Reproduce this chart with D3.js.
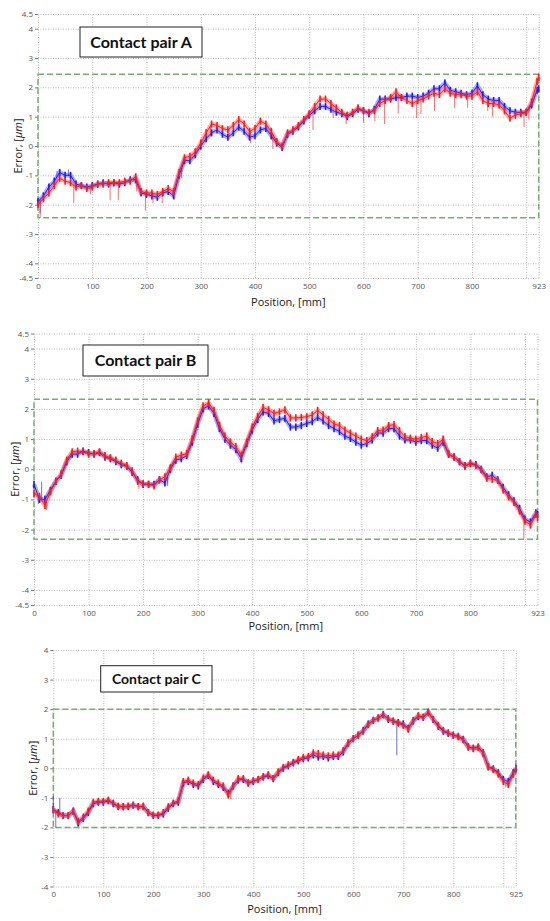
<!DOCTYPE html>
<html>
<head>
<meta charset="utf-8">
<script src="https://cdn.jsdelivr.net/npm/d3@7"></script>
<style>
  body { margin: 0; background: #fff; }
  svg { display: block; }
  .tick-label text { font-family: "Open Sans", sans-serif; font-size: 8px; fill: #555; }
  .axis-title { font-family: "Open Sans", sans-serif; font-size: 11px; fill: #222; }
  .title { font-family: Lato, sans-serif; font-weight: bold; fill: #111; }
</style>
</head>
<body>
<div id="chart"></div>
<script>
// sample positions, mm
var posAB = [0,10,20,30,40,50,60,70,80,90,100,110,120,130,140,150,160,170,180,190,
  200,210,220,230,240,250,260,270,280,290,300,310,320,330,340,350,360,370,380,390,
  400,410,420,430,440,450,460,470,480,490,500,510,520,530,540,550,560,570,580,590,
  600,610,620,630,640,650,660,670,680,690,700,710,720,730,740,750,760,770,780,790,
  800,810,820,830,840,850,860,870,880,890,900,910,920,923];
var posC = [0,10,20,30,40,50,60,70,80,90,100,110,120,130,140,150,160,170,180,190,
  200,210,220,230,240,250,260,270,280,290,300,310,320,330,340,350,360,370,380,390,
  400,410,420,430,440,450,460,470,480,490,500,510,520,530,540,550,560,570,580,590,
  600,610,620,630,640,650,660,670,680,690,700,710,720,730,740,750,760,770,780,790,
  800,810,820,830,840,850,860,870,880,890,900,910,920,925];

// error, um
var blueA = [-1.9,-1.7,-1.4,-1.2,-0.9,-1.0,-1.0,-1.3,-1.35,-1.4,
  -1.35,-1.3,-1.25,-1.3,-1.25,-1.3,-1.25,-1.15,-1.15,-1.6,
  -1.65,-1.7,-1.75,-1.6,-1.55,-1.7,-1.0,-0.5,-0.5,-0.3,
  0.0,0.25,0.45,0.55,0.4,0.3,0.45,0.65,0.5,0.3,
  0.35,0.55,0.6,0.35,0.1,-0.05,0.4,0.5,0.65,0.85,
  1.05,1.2,1.35,1.35,1.25,1.15,1.1,1.0,1.1,1.25,
  1.2,1.1,1.25,1.6,1.6,1.6,1.65,1.65,1.7,1.7,
  1.65,1.7,1.8,1.95,1.95,2.15,1.9,1.85,1.8,1.75,
  1.8,2.05,1.75,1.6,1.55,1.55,1.35,1.2,1.15,1.15,
  1.15,1.4,1.9,1.95];
var redA = [-2.0,-1.8,-1.6,-1.35,-1.1,-1.2,-1.25,-1.4,-1.35,-1.45,
  -1.4,-1.3,-1.3,-1.25,-1.25,-1.25,-1.2,-1.2,-1.05,-1.55,
  -1.6,-1.6,-1.65,-1.55,-1.45,-1.55,-0.9,-0.4,-0.35,-0.2,
  0.1,0.45,0.75,0.7,0.6,0.55,0.7,0.9,0.75,0.5,
  0.6,0.85,0.75,0.5,0.15,0.0,0.45,0.55,0.7,0.9,
  1.1,1.35,1.6,1.6,1.45,1.3,1.15,1.05,1.15,1.3,
  1.2,1.15,1.2,1.45,1.55,1.65,1.85,1.65,1.55,1.45,
  1.55,1.6,1.7,1.8,1.75,1.95,1.8,1.75,1.75,1.7,
  1.7,1.85,1.55,1.45,1.45,1.4,1.2,0.95,1.05,1.1,
  1.15,1.5,2.2,2.35];
var blueB = [-0.5,-1.0,-1.0,-0.7,-0.4,-0.2,0.25,0.5,0.5,0.6,
  0.55,0.5,0.55,0.4,0.35,0.25,0.15,0.1,-0.1,-0.35,
  -0.5,-0.5,-0.5,-0.35,-0.45,0.0,0.3,0.35,0.45,0.9,
  1.5,2.0,2.1,1.85,1.35,1.0,0.8,0.65,0.35,0.85,
  1.3,1.65,1.9,1.85,1.6,1.65,1.69,1.4,1.4,1.45,
  1.52,1.58,1.72,1.6,1.45,1.35,1.25,1.1,1.02,0.9,
  0.8,0.85,0.97,1.2,1.2,1.35,1.35,1.1,0.97,0.97,
  0.9,0.95,0.95,0.8,0.7,0.9,0.5,0.4,0.25,0.1,
  0.2,0.15,0.0,-0.25,-0.2,-0.35,-0.6,-0.85,-1.05,-1.3,
  -1.65,-1.75,-1.45,-1.5];
var redB = [-0.8,-0.9,-1.2,-0.75,-0.4,-0.15,0.3,0.58,0.6,0.58,
  0.5,0.52,0.58,0.45,0.38,0.3,0.2,0.12,-0.05,-0.4,
  -0.48,-0.5,-0.55,-0.35,-0.25,0.05,0.4,0.47,0.52,1.0,
  1.6,2.1,2.2,1.95,1.45,1.1,0.9,0.75,0.47,0.9,
  1.4,1.75,2.05,1.97,1.85,1.9,1.97,1.7,1.7,1.72,
  1.74,1.8,1.95,1.8,1.65,1.5,1.45,1.3,1.2,1.1,
  1.0,0.95,1.08,1.28,1.3,1.45,1.48,1.28,1.08,1.03,
  1.0,1.05,1.1,0.92,0.85,1.0,0.5,0.4,0.25,0.12,
  0.18,0.12,-0.02,-0.3,-0.33,-0.37,-0.68,-0.92,-1.1,-1.38,
  -1.72,-1.85,-1.5,-1.6];
var blueC = [-1.4,-1.5,-1.6,-1.6,-1.45,-1.85,-1.7,-1.5,-1.2,-1.15,
  -1.15,-1.1,-1.2,-1.3,-1.3,-1.3,-1.25,-1.3,-1.3,-1.5,
  -1.6,-1.6,-1.55,-1.35,-1.2,-1.15,-0.5,-0.45,-0.55,-0.6,
  -0.38,-0.25,-0.45,-0.55,-0.65,-0.85,-0.6,-0.4,-0.38,-0.5,
  -0.45,-0.38,-0.3,-0.25,-0.35,-0.15,0.0,0.08,0.18,0.25,
  0.32,0.35,0.45,0.38,0.4,0.35,0.4,0.4,0.55,0.85,
  1.0,1.12,1.28,1.5,1.62,1.7,1.82,1.65,1.6,1.55,
  1.5,1.35,1.6,1.75,1.72,1.9,1.65,1.42,1.25,1.18,
  1.12,1.08,0.98,0.72,0.68,0.72,0.52,0.05,-0.02,-0.15,
  -0.38,-0.45,-0.15,0.0];
var redC = [-1.4,-1.55,-1.6,-1.6,-1.45,-1.8,-1.65,-1.45,-1.15,-1.12,
  -1.12,-1.08,-1.18,-1.28,-1.3,-1.28,-1.25,-1.3,-1.28,-1.5,
  -1.58,-1.58,-1.5,-1.3,-1.18,-1.1,-0.45,-0.4,-0.5,-0.55,
  -0.33,-0.22,-0.4,-0.5,-0.6,-0.9,-0.6,-0.35,-0.35,-0.5,
  -0.42,-0.38,-0.28,-0.22,-0.35,-0.12,0.03,0.12,0.2,0.3,
  0.36,0.4,0.52,0.5,0.45,0.42,0.45,0.45,0.6,0.85,
  1.0,1.12,1.25,1.48,1.62,1.7,1.8,1.68,1.58,1.52,
  1.45,1.32,1.62,1.78,1.73,1.88,1.65,1.45,1.28,1.2,
  1.12,1.06,0.96,0.72,0.66,0.7,0.5,0.05,-0.05,-0.2,
  -0.45,-0.55,-0.2,-0.02];

// isolated spikes [mm, tip value]
var redSpikesA = [[4,-2.45],[66,-1.95],[97,-1.65],[133,-1.85],[148,-1.85],[182,-1.55],[198,-2.2],
  [212,-1.95],[229,-1.95],[249,-1.75],[318,0.35],[352,0.2],[392,0.1],[433,-0.1],[507,0.55],
  [544,0.95],[568,0.75],[600,0.8],[621,0.85],[639,0.75],[664,1.1],[698,0.95],[706,1.1],
  [731,1.2],[768,1.3],[792,1.3],[829,1.2],[838,1.0],[896,0.65],[905,0.9]];
var blueSpikesA = [[4,-2.3],[35,-0.85],[56,-0.8],[265,-1.1],[750,2.2]];
var redSpikesB = [[23,-1.35],[192,-0.65],[898,-2.3]];
var blueSpikesB = [[8,-1.15],[14,-0.42],[245,-0.55],[380,0.25],[770,0.55]];
var redSpikesC = [[355,-1.05],[905,-0.65]];
var blueSpikesC = [[0,-0.95],[5,-2.0],[13,-1.0],[50,-1.95],[687,0.44]];

// tolerance band, um
var tolA = 2.45, tolB = 2.32, tolC = 2.0;

var titles = ['Contact pair A', 'Contact pair B', 'Contact pair C'];
var xTicksAB = [0,100,200,300,400,500,600,700,800,923];
var xGridAB = [0,100,200,300,400,500,600,700,800,900,923];
var xTicksC = [0,100,200,300,400,500,600,700,800,925];
var xGridC = [0,100,200,300,400,500,600,700,800,900,925];
var yTicksAB = [-4.5,-4,-3,-2,-1,0,1,2,3,4,4.5];
var yTicksC = [-4,-3,-2,-1,0,1,2,3,4];

var panels = [
  {pos: posAB, blue: blueA, red: redA, bs: blueSpikesA, rs: redSpikesA, tol: tolA, title: titles[0],
   xEnd: 923, xTicks: xTicksAB, xGrid: xGridAB, yTicks: yTicksAB, yMin: -4.5, yMax: 4.5,
   left: 38, right: 538.7, top: 14, bottom: 278, box: [80, 27, 122, 30], fs: 16, errX: 18, posY: 306},
  {pos: posAB, blue: blueB, red: redB, bs: blueSpikesB, rs: redSpikesB, tol: tolB, title: titles[1],
   xEnd: 923, xTicks: xTicksAB, xGrid: xGridAB, yTicks: yTicksAB, yMin: -4.5, yMax: 4.5,
   left: 34, right: 537.5, top: 333.5, bottom: 605, box: [83, 345, 125, 31], fs: 16, errX: 15, posY: 630},
  {pos: posC, blue: blueC, red: redC, bs: blueSpikesC, rs: redSpikesC, tol: tolC, title: titles[2],
   xEnd: 925, xTicks: xTicksC, xGrid: xGridC, yTicks: yTicksC, yMin: -4, yMax: 4,
   left: 53.3, right: 515.8, top: 650, bottom: 886.5, box: [100.7, 665.7, 111.3, 26.3], fs: 14, errX: 33, posY: 913}
];

var svg = d3.select('#chart').append('svg')
  .attr('width', 550).attr('height', 921);

panels.forEach(function(p) {
  var x = d3.scaleLinear().domain([0, p.xEnd]).range([p.left, p.right]);
  var y = d3.scaleLinear().domain([p.yMin, p.yMax]).range([p.bottom, p.top]);
  var g = svg.append('g');

  // dotted grid
  g.append('g').attr('class', 'grid')
    .attr('transform', 'translate(0,' + p.bottom + ')')
    .call(d3.axisBottom(x).tickValues(p.xGrid).tickSize(-(p.bottom - p.top)).tickFormat(''));
  g.append('g').attr('class', 'grid')
    .attr('transform', 'translate(' + p.left + ',0)')
    .call(d3.axisLeft(y).tickValues(p.yTicks).tickSize(-(p.right - p.left)).tickFormat(''));
  g.selectAll('.grid .domain').remove();
  g.selectAll('.grid line')
    .attr('stroke', '#bcbcbc').attr('stroke-width', 1).attr('stroke-dasharray', '1,1.5');

  // tick labels
  var xa = g.append('g').attr('class', 'tick-label')
    .attr('transform', 'translate(0,' + p.bottom + ')')
    .call(d3.axisBottom(x).tickValues(p.xTicks).tickSize(0).tickPadding(5).tickFormat(function(d) { return String(d); }));
  var ya = g.append('g').attr('class', 'tick-label')
    .attr('transform', 'translate(' + p.left + ',0)')
    .call(d3.axisLeft(y).tickValues(p.yTicks).tickSize(3).tickPadding(2).tickFormat(function(d) { return String(d); }));
  g.selectAll('.tick-label .domain').remove();
  ya.selectAll('line').attr('stroke', '#777');
  xa.selectAll('text').attr('font-family', null).attr('font-size', null);
  ya.selectAll('text').attr('font-family', null).attr('font-size', null);

  // tolerance box
  g.append('rect')
    .attr('x', x(0)).attr('y', y(p.tol))
    .attr('width', x(p.xEnd) - x(0)).attr('height', y(-p.tol) - y(p.tol))
    .attr('fill', 'none').attr('stroke', '#74b06c').attr('stroke-width', 1.5)
    .attr('stroke-dasharray', '6,3');

  // traces
  var line = d3.line()
    .x(function(d) { return x(d[0]); })
    .y(function(d) { return y(d[1]); });

  [[p.blue, p.bs, '#1a1aff'], [p.red, p.rs, '#ff1a1a']].forEach(function(s) {
    var pts = p.pos.map(function(m, i) { return [m, s[0][i]]; });
    var base = d3.scaleLinear().domain(p.pos).range(s[0]);
    g.append('path').datum(pts).attr('d', line)
      .attr('fill', 'none').attr('stroke', s[2]).attr('stroke-width', 4.5).attr('stroke-opacity', 0.35);
    g.selectAll(null).data(pts).enter().append('line')
      .attr('x1', function(d) { return x(d[0]); }).attr('x2', function(d) { return x(d[0]); })
      .attr('y1', function(d) { return y(d[1] + 0.12); }).attr('y2', function(d) { return y(d[1] - 0.12); })
      .attr('stroke', s[2]).attr('stroke-width', 1.6);
    g.selectAll(null).data(s[1]).enter().append('line')
      .attr('x1', function(d) { return x(d[0]); }).attr('x2', function(d) { return x(d[0]); })
      .attr('y1', function(d) { return y(base(d[0])); }).attr('y2', function(d) { return y(d[1]); })
      .attr('stroke', s[2]).attr('stroke-width', 1).attr('stroke-opacity', 0.65);
    g.append('path').datum(pts).attr('d', line)
      .attr('fill', 'none').attr('stroke', s[2]).attr('stroke-width', 1);
  });

  // title box
  g.append('rect')
    .attr('x', p.box[0]).attr('y', p.box[1]).attr('width', p.box[2]).attr('height', p.box[3])
    .attr('fill', '#fff').attr('stroke', '#222').attr('stroke-width', 1);
  g.append('text').attr('class', 'title')
    .attr('x', p.box[0] + p.box[2] / 2).attr('y', p.box[1] + p.box[3] / 2)
    .attr('dy', '0.36em').attr('text-anchor', 'middle').attr('font-size', p.fs)
    .text(p.title);

  // axis titles
  g.append('text').attr('class', 'axis-title')
    .attr('x', (p.left + p.right) / 2).attr('y', p.posY)
    .attr('text-anchor', 'middle').text('Position, [mm]');
  var et = g.append('text').attr('class', 'axis-title')
    .attr('transform', 'translate(' + p.errX + ',' + (p.top + p.bottom) / 2 + ') rotate(-90)')
    .attr('dy', '0.35em').attr('text-anchor', 'middle');
  et.append('tspan').text('Error, [');
  et.append('tspan').attr('font-style', 'italic').text('µm');
  et.append('tspan').text(']');
});
</script>
</body>
</html>
